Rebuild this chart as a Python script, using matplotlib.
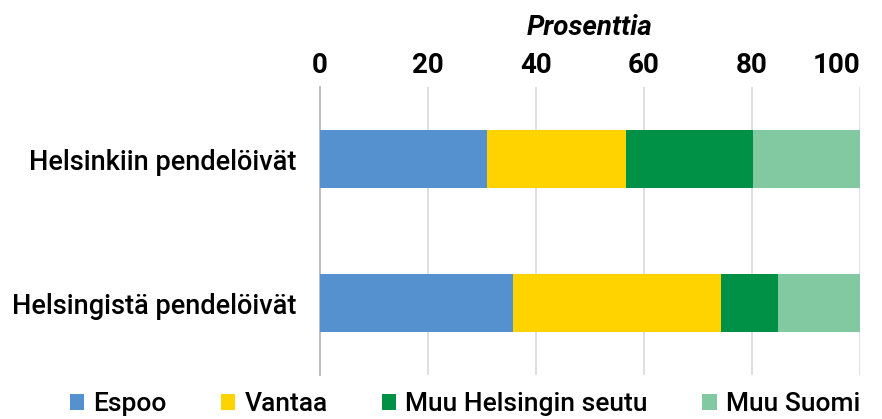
import matplotlib.pyplot as plt
import numpy as np

categories = ["Helsinkiin pendelöivät", "Helsingistä pendelöivät"]
series = ["Espoo", "Vantaa", "Muu Helsingin seutu", "Muu Suomi"]
espoo = [30.9, 35.7]
vantaa = [25.8, 38.5]
muu_hki_seutu = [23.4, 10.7]
muu_suomi = [19.9, 15.1]
ticks = [0, 20, 40, 60, 80, 100]

colors = ["#5591cf", "#ffd300", "#009046", "#82c8a0"]
values = [espoo, vantaa, muu_hki_seutu, muu_suomi]

plt.rcParams['font.family'] = ['Roboto', 'DejaVu Sans']

fig = plt.figure(figsize=(8.82, 4.19), dpi=100)
ax = fig.add_axes([0.363, 0.105, 0.612, 0.687])

y = np.arange(len(categories))
left = np.zeros(len(categories))
for name, vals, c in zip(series, values, colors):
    ax.barh(y, vals, left=left, color=c, height=0.4, label=name, zorder=3)
    left += np.array(vals)

ax.set_xlim(0, 100)
ax.set_ylim(1.5, -0.5)
ax.set_xticks(ticks)
ax.set_xticklabels([str(t) for t in ticks], fontsize=20, fontweight='semibold')
ax.set_yticks(y)
ax.set_yticklabels(categories, fontsize=19.5, fontweight='medium')
ax.xaxis.tick_top()
ax.xaxis.set_label_position('top')
ax.tick_params(axis='x', length=0, pad=6)
ax.tick_params(axis='y', length=0, pad=17)
ax.get_xticklabels()[-1].set_horizontalalignment('right')
ax.set_xlabel("Prosenttia", fontsize=20, fontstyle='italic', fontweight='bold', labelpad=12)

ax.grid(axis='x', color='#d9d9d9', linewidth=1.2, zorder=0)
for sp in ["top", "right", "bottom"]:
    ax.spines[sp].set_visible(False)
ax.spines["left"].set_color('#bfbfbf')
ax.spines["left"].set_linewidth(1.5)

fig.legend(loc='lower center', ncol=4, frameon=False,
           prop={'weight': 'medium', 'size': 19},
           bbox_to_anchor=(0.527, -0.05), handlelength=0.55, handleheight=0.55,
           handletextpad=0.35, columnspacing=2.05)

fig.savefig("out.png", dpi=100)
